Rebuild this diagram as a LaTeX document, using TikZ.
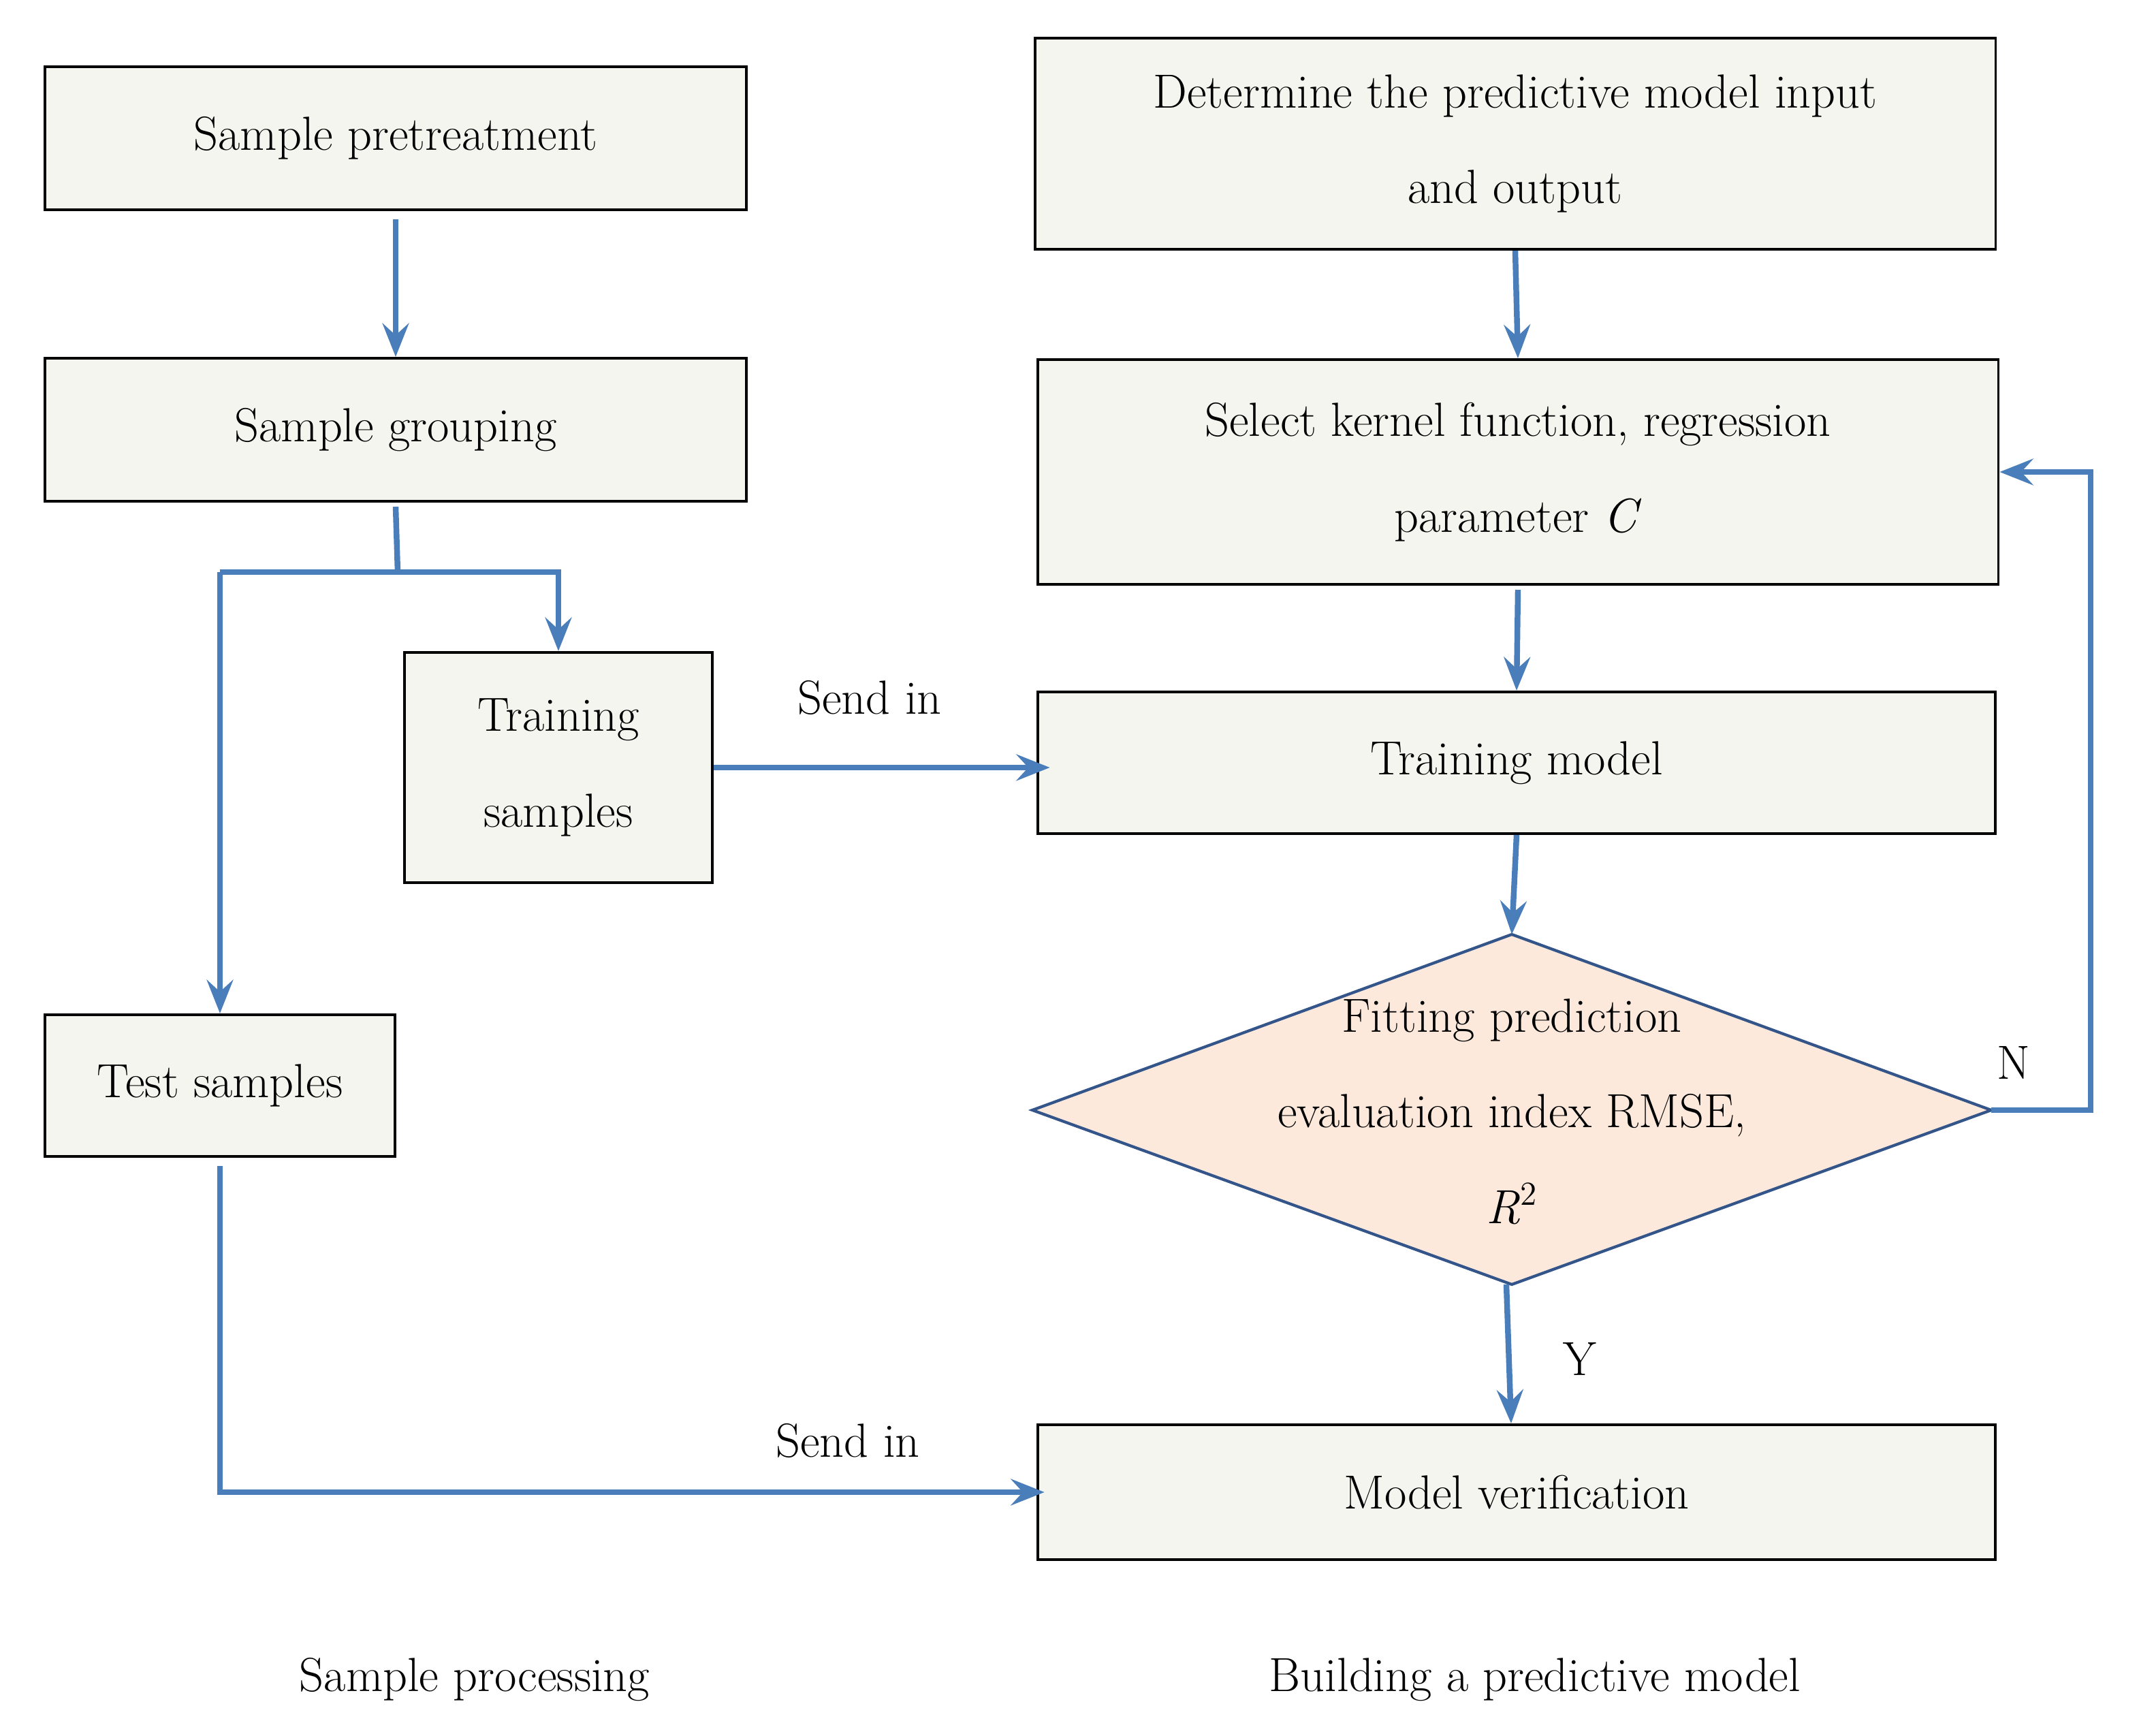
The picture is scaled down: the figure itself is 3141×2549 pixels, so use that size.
\documentclass[tikz,border=0pt]{standalone}
\usetikzlibrary{arrows.meta,calc}
\definecolor{boxfill}{HTML}{F4F5EE}
\definecolor{diafill}{HTML}{FCE9DC}
\definecolor{diaedge}{HTML}{34558A}
\definecolor{arr}{HTML}{4A7EBB}
\begin{document}
\begin{tikzpicture}[x=0.01cm,y=-0.01cm,
  every node/.style={font=\fontsize{20}{40}\selectfont},
  box/.style={draw=black,line width=1.1pt,fill=boxfill,align=center,inner sep=0pt},
  con/.style={draw=arr,line width=2.4pt},
  arw/.style={con,-{Stealth[length=14pt,width=11pt,inset=5pt]}},
  lbl/.style={}]
\useasboundingbox (0,0) rectangle (3141,2549);
\node[box,minimum width=10.30cm,minimum height=2.10cm] (pre) at (581,203) {Sample pretreatment};
\node[box,minimum width=10.30cm,minimum height=2.10cm] (grp) at (581,631) {Sample grouping};
\node[box,minimum width=4.52cm,minimum height=3.38cm] (trs) at (820,1127) {Training\\samples};
\node[box,minimum width=5.14cm,minimum height=2.08cm] (tst) at (323,1594) {Test samples};
\node[box,minimum width=14.10cm,minimum height=3.10cm] (det) at (2225,211) {Determine the predictive model input\\and output};
\node[box,minimum width=14.10cm,minimum height=3.30cm] (sel) at (2229,693) {Select kernel function, regression\\parameter \textit{C}};
\node[box,minimum width=14.06cm,minimum height=2.08cm] (trm) at (2227,1120) {Training model};
\node[box,minimum width=14.06cm,minimum height=1.98cm] (ver) at (2227,2191) {Model verification};
\coordinate (dl) at (1516,1630);
\coordinate (dt) at (2220,1372);
\coordinate (dr) at (2924,1630);
\coordinate (db) at (2220,1886);
\draw[draw=diaedge,line width=1.2pt,fill=diafill] (dl) -- (dt) -- (dr) -- (db) -- cycle;
\node[align=center] (dtx) at (2220,1632) {Fitting prediction\\evaluation index RMSE,\\\textit{R}\textsuperscript{2}};
% connectors
\draw[arw] ($(pre.south)+(0,12)$) -- (grp.north);
\coordinate (j) at (584,840);
\coordinate (jl) at (tst.north |- j);
\coordinate (jr) at (trs.north |- j);
\draw[con] ($(grp.south)+(0,6)$) -- (j);
\draw[arw] (jl) -- (jr) -- (trs.north);
\draw[arw] (jl) -- (tst.north);
\draw[arw] (trs.east) -- ($(trs.east -| trm.west)+(20,0)$);
\draw[arw] ($(tst.south)+(0,12)$) -- (tst.south |- ver.west) -- ($(ver.west)+(12,0)$);
\draw[arw] (det.south) -- (sel.north);
\draw[arw] ($(sel.south)+(0,6)$) -- (trm.north);
\draw[arw] (trm.south) -- (dt);
\draw[arw] ($(db)+(-8,0)$) -- ($(ver.north)+(-8,0)$);
\coordinate (nr) at (3070,1630);
\draw[arw] (dr) -- (nr) |- (sel.east);
% labels
\node[lbl] (s1) at (1277,1024) {Send in};
\node[lbl] (s2) at (1245,2115) {Send in};
\node[lbl] (ly) at (2320,1995) {Y};
\node[lbl] (ln) at (2957,1560) {N};
\node[lbl] (c1) at (697,2466) {Sample processing};
\node[lbl] (c2) at (2254,2466) {Building a predictive model};
\end{tikzpicture}
\end{document}
